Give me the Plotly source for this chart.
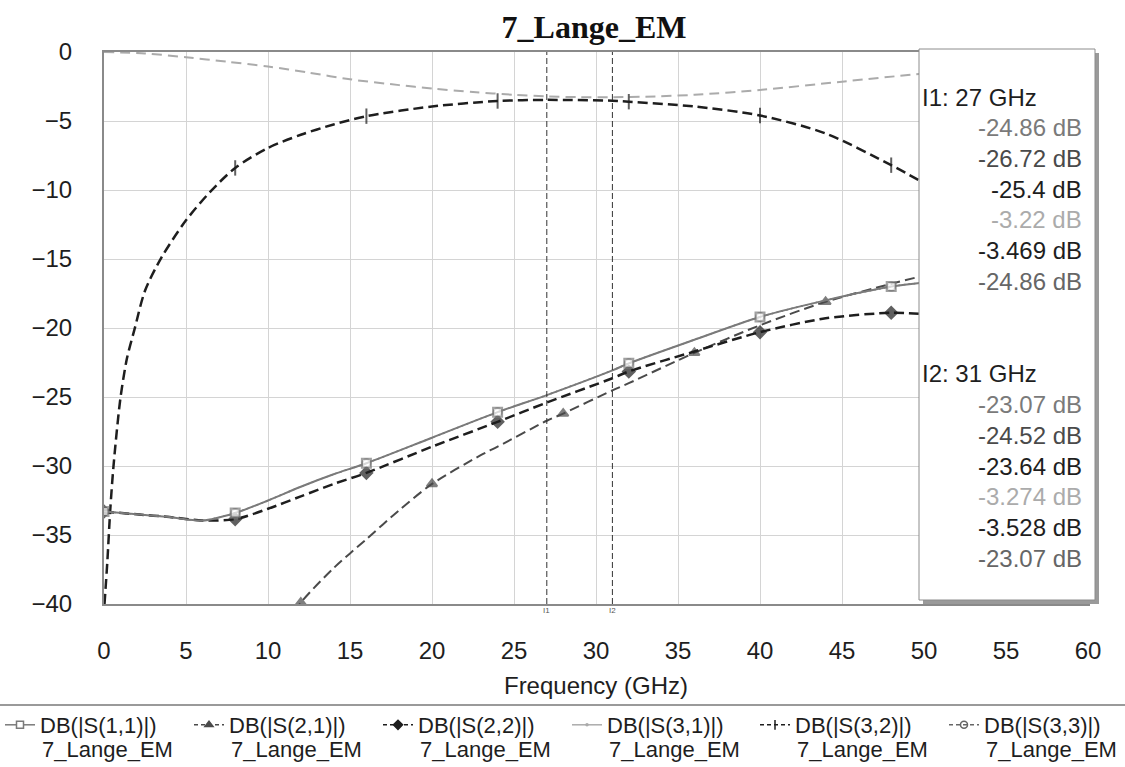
import plotly.graph_objects as go

# ---------------- data ----------------
S11_f = [0, 2, 4, 6, 8, 10, 12, 14, 16, 20, 24, 27, 31, 32, 36, 40, 44, 48, 50]
S11_db = [-33.3, -33.5, -33.7, -33.95, -33.4, -32.5, -31.5, -30.6, -29.8, -27.95, -26.1,
          -24.86, -23.07, -22.56, -20.85, -19.2, -18.0, -17.0, -16.7]

S21_f = [10, 12, 14, 16, 18, 20, 23, 24, 27, 28, 31, 32, 36, 40, 44, 48, 50]
S21_db = [-43.2, -39.9, -37.4, -35.3, -33.2, -31.3, -29.2, -28.6, -26.72, -26.2, -24.52,
          -24.0, -21.8, -19.8, -18.1, -16.8, -16.2]

S22_f = [0, 2, 4, 6, 8, 10, 12, 14, 16, 20, 24, 27, 31, 32, 36, 40, 44, 48, 50]
S22_db = [-33.3, -33.5, -33.7, -33.95, -33.85, -33.1, -32.2, -31.3, -30.5, -28.6, -26.8,
          -25.4, -23.64, -23.15, -21.7, -20.3, -19.3, -18.9, -19.0]

S31_f = [0, 2.5, 5, 7.5, 10, 12.5, 15, 18, 20, 22.5, 25, 27, 29, 31, 33, 36, 40, 45, 50]
S31_db = [0, -0.1, -0.38, -0.7, -1.05, -1.5, -1.98, -2.4, -2.65, -2.9, -3.1, -3.22, -3.27,
          -3.274, -3.24, -3.1, -2.75, -2.15, -1.55]

S32_f = [0.03, 0.2, 0.38, 0.58, 1.0, 1.4, 1.86, 2.5, 3.5, 5, 6.5, 8, 10, 12, 14, 16, 20, 24,
         27, 31, 32, 36, 40, 44, 48, 50]
S32_db = [-40, -37, -33.2, -30, -25.1, -22.2, -20.1, -17.3, -14.9, -12.2, -10.1, -8.4, -6.95,
          -6.0, -5.25, -4.65, -3.95, -3.55, -3.469, -3.528, -3.6, -3.95, -4.6, -5.9, -8.2, -9.5]

S33_f = [0, 2, 4, 6, 8, 10, 12, 14, 16, 20, 24, 27, 31, 32, 36, 40, 44, 48, 50]
S33_db = [-33.3, -33.5, -33.7, -33.95, -33.4, -32.5, -31.5, -30.6, -29.8, -27.95, -26.1,
          -24.86, -23.07, -22.56, -20.85, -19.2, -18.0, -17.0, -16.7]

MARK_A = [0, 8, 16, 24, 32, 40, 48]      # marker frequencies (S11, S22, S32, S33)
MARK_B = [12, 20, 28, 36, 44]            # marker frequencies (S21)

names = ["DB(|S(1,1)|)", "DB(|S(2,1)|)", "DB(|S(2,2)|)",
         "DB(|S(3,1)|)", "DB(|S(3,2)|)", "DB(|S(3,3)|)"]
source = "7_Lange_EM"

cursor_freqs = [27, 31]
cursor_labels = ["I1", "I2"]
I1_vals = ["-24.86 dB", "-26.72 dB", "-25.4 dB", "-3.22 dB", "-3.469 dB", "-24.86 dB"]
I2_vals = ["-23.07 dB", "-24.52 dB", "-23.64 dB", "-3.274 dB", "-3.528 dB", "-23.07 dB"]

# ---------------- styles ----------------
colors = ["#7a7a7a", "#4a4a4a", "#1e1e1e", "#ababab", "#1e1e1e", "#666666"]
dashes = ["solid", "10px,5px", "10px,5px", "10px,6px", "10px,5px", "2px,3px"]
widths = [2, 2, 2.5, 2, 2.5, 1.5]
symbols = ["square", "triangle-up", "diamond", "circle", "line-ns", "circle-open"]
fills = ["white", colors[1], colors[2], colors[3], colors[4], colors[5]]
msizes = [9, 9, 9, 0, 11, 8]

series = [(S11_f, S11_db, MARK_A), (S21_f, S21_db, MARK_B), (S22_f, S22_db, MARK_A),
          (S31_f, S31_db, []), (S32_f, S32_db, MARK_A), (S33_f, S33_db, MARK_A)]

L, R, T, B, W, H = 104, 37, 52, 163, 1125, 767
PW, PH = W - L - R, H - T - B
def xp(px):
    return (px - L) / PW
def yp(py):
    return (T + PH - py) / PH

fig = go.Figure()
FONT = "Liberation Sans, Arial, sans-serif"
TXT = "#1e1e1e"

draw_order = [5, 3, 1, 2, 4, 0]
for i in draw_order:
    f, v, mk = series[i]
    sizes = [msizes[i] if x in mk else 0 for x in f]
    fig.add_trace(go.Scatter(
        x=f, y=v, mode="lines+markers", showlegend=False,
        line=dict(color=colors[i], width=widths[i], dash=dashes[i], shape="spline", smoothing=0.8),
        marker=dict(symbol=symbols[i], size=sizes, color=fills[i],
                    line=dict(color=colors[i], width=2)),
        hoverinfo="skip"))

# legend: one small legend per series, laid out in a row
leg_text_x = [40, 229, 418, 607, 795, 984]
leg_font = 22
legends = {}
for i in range(6):
    key = "legend" if i == 0 else "legend%d" % (i + 1)
    fig.add_trace(go.Scatter(
        x=[None], y=[None], mode="lines+markers", name=names[i], legend=key,
        line=dict(color=colors[i], width=1.5, dash="solid" if i in (0, 3) else "4px,3px"),
        marker=dict(symbol=symbols[i], size=7 if msizes[i] else 0, color=fills[i],
                    line=dict(color=colors[i], width=1.5))))
    legends[key] = dict(orientation="h", xref="container", yref="container",
                        x=(leg_text_x[i] - 40) / W, xanchor="left",
                        y=(H - 704) / H, yanchor="top", bgcolor="rgba(0,0,0,0)",
                        font=dict(family=FONT, size=leg_font, color=TXT), itemwidth=30)
    fig.add_annotation(x=xp(leg_text_x[i]), y=yp(749), xref="paper", yref="paper", text=source,
                       xanchor="left", yanchor="middle", showarrow=False,
                       font=dict(family=FONT, size=leg_font, color=TXT))

# cursor lines
for fq, lab in zip(cursor_freqs, cursor_labels):
    fig.add_shape(type="line", x0=fq, x1=fq, xref="x", yref="paper", y0=0, y1=1,
                  line=dict(color="#333333", width=1, dash="6px,3px"))
    fig.add_annotation(x=fq, xref="x", y=yp(617), yref="paper", text=lab, showarrow=False,
                       font=dict(family=FONT, size=8, color="#555555"))

# marker box with shadow
bx0, bx1, by0, by1 = 919, 1095, 49, 600
fig.add_shape(type="rect", xref="paper", yref="paper",
              x0=xp(bx0 + 4), x1=xp(bx1 + 4), y0=yp(by1 + 4), y1=yp(by0 + 4),
              fillcolor="#9a9a9a", line=dict(width=0), layer="above")
fig.add_shape(type="rect", xref="paper", yref="paper",
              x0=xp(bx0), x1=xp(bx1), y0=yp(by1), y1=yp(by0),
              fillcolor="white", line=dict(color="#8c8c8c", width=1), layer="above")

BOXF = 24
def block(title, vals, y0):
    fig.add_annotation(x=xp(920), y=yp(y0), xref="paper", yref="paper", text=title,
                       xanchor="left", yanchor="middle", showarrow=False,
                       font=dict(family=FONT, size=BOXF, color=TXT))
    for k, v in enumerate(vals):
        fig.add_annotation(x=xp(1084), y=yp(y0 + 30.7 * (k + 1)), xref="paper", yref="paper",
                           text=v, xanchor="right", yanchor="middle", showarrow=False,
                           font=dict(family=FONT, size=BOXF, color=colors[k]))

block(cursor_labels[0] + ": %d GHz" % cursor_freqs[0], I1_vals, 97)
block(cursor_labels[1] + ": %d GHz" % cursor_freqs[1], I2_vals, 374)

# separator above legend
fig.add_shape(type="line", xref="paper", yref="paper", x0=xp(0), x1=xp(W), y0=yp(705), y1=yp(705),
              line=dict(color="#9a9a9a", width=2))

TICKF = 24
fig.update_layout(
    width=W, height=H,
    margin=dict(l=L, r=R, t=T, b=B, autoexpand=False),
    paper_bgcolor="white", plot_bgcolor="white",
    title=dict(text="<b>7_Lange_EM</b>", x=xp(594), xref="paper", y=1 - 27 / H, yanchor="middle",
               font=dict(family="Liberation Serif, Times New Roman, serif", size=32, color="#111")),
    font=dict(family=FONT, color=TXT),
    xaxis=dict(range=[0, 60], dtick=5, tick0=0, showgrid=True, gridcolor="#d4d4d4", gridwidth=1,
               showline=True, linecolor="#8a8a8a", linewidth=2, mirror=True, zeroline=False,
               automargin=False,
               ticks="", ticklabelstandoff=24, tickfont=dict(family=FONT, size=TICKF, color=TXT),
               title=dict(text="Frequency (GHz)", standoff=14,
                          font=dict(family=FONT, size=TICKF, color=TXT))),
    yaxis=dict(range=[-40, 0], dtick=5, showgrid=True, gridcolor="#d4d4d4", gridwidth=1,
               showline=True, linecolor="#8a8a8a", linewidth=2, mirror=True, zeroline=False,
               automargin=False,
               ticks="", ticklabelstandoff=25, tickfont=dict(family=FONT, size=TICKF, color=TXT)),
    **legends,
)

fig.write_html("out.html", config={"displayModeBar": False},
               post_script="document.body.style.margin='0';document.body.style.overflow='hidden';")
